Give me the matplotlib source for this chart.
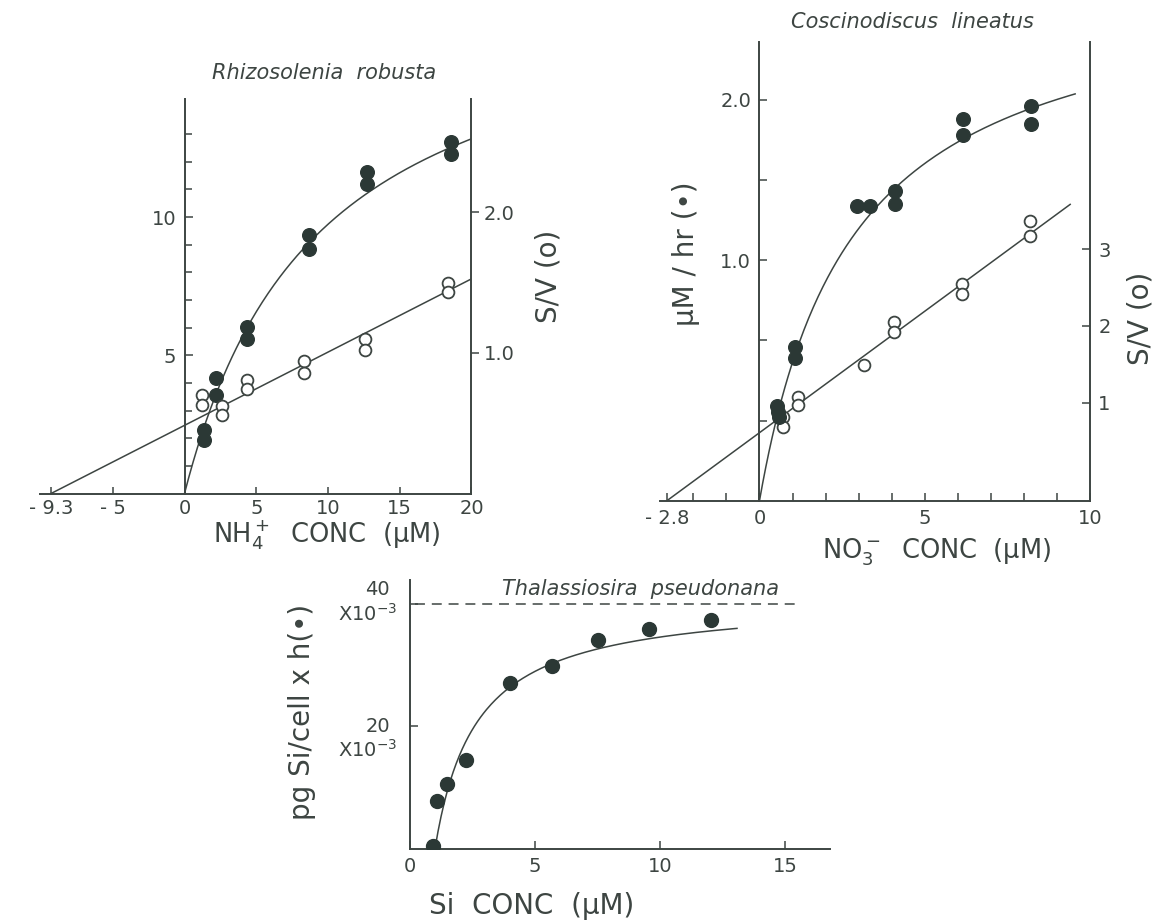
import numpy as np
import matplotlib.pyplot as plt

# Rhizosolenia robusta: NH4+ uptake rate (filled) and S/V (open)
rr_s_fill = [1.35, 1.35, 2.2, 2.2, 4.35, 4.35, 8.65, 8.65, 12.7, 12.7, 18.6, 18.6]
rr_v = [2.30, 1.94, 4.17, 3.57, 6.04, 5.59, 9.34, 8.86, 11.64, 11.18, 12.72, 12.29]
rr_s_open = [1.2, 1.2, 2.6, 2.6, 4.33, 4.33, 8.33, 8.33, 12.58, 12.58, 18.38, 18.38]
rr_sv = [0.70, 0.63, 0.62, 0.56, 0.81, 0.74, 0.94, 0.86, 1.10, 1.02, 1.50, 1.43]
rr_ks, rr_vmax, rr_vmax_sv = 9.3, 18.8, 19.2

# Coscinodiscus lineatus: NO3- uptake
cl_s_fill = [0.52, 0.56, 0.6, 1.08, 1.08, 2.94, 3.33, 4.1, 4.1, 6.16, 6.16, 8.22, 8.22]
cl_v = [0.09, 0.05, 0.02, 0.457, 0.388, 1.34, 1.34, 1.431, 1.351, 1.88, 1.78, 1.96, 1.85]
cl_s_open = [0.72, 0.72, 1.16, 1.16, 3.16, 4.08, 4.08, 6.14, 6.14, 8.19, 8.19]
cl_sv = [0.82, 0.69, 1.083, 0.974, 1.487, 2.057, 1.924, 2.54, 2.41, 3.36, 3.17]
cl_ks, cl_vmax, cl_v_floor = 2.8, 3.28, -0.5
cl_line_s = [-2.8, 9.4]
cl_line_sv = [-0.27, 3.58]

# Thalassiosira pseudonana: Si uptake
tp_s = [0.92, 1.07, 1.49, 2.25, 4.01, 5.69, 7.51, 9.57, 12.04]
tp_v = [0.44, 7.86, 10.6, 14.45, 27.1, 29.9, 34.2, 36.0, 37.4]
tp_s0, tp_ks, tp_vmax = 1.0, 1.65, 41.0
tp_vmax_line = 40

ink = '#3d4542'
dot = '#2b3835'
W, H = 1153, 922

plt.rcParams['font.family'] = ['DejaVu Sans']
plt.rcParams['text.color'] = ink
plt.rcParams['axes.edgecolor'] = ink
plt.rcParams['xtick.color'] = ink
plt.rcParams['ytick.color'] = ink
plt.rcParams['xtick.labelcolor'] = ink
plt.rcParams['ytick.labelcolor'] = ink
plt.rcParams['axes.linewidth'] = 1.4

fig = plt.figure(figsize=(W / 100, H / 100), dpi=100)


def rect(l, t, r, b):
    return [l / W, 1 - b / H, (r - l) / W, (b - t) / H]


def ftext(x, y, s, **kw):
    fig.text(x / W, 1 - y / H, s, **kw)


fill_kw = dict(ls='none', marker='o', ms=9.8, color=dot, mec=dot, zorder=4)
open_kw = dict(ls='none', marker='o', ms=8.5, mfc='white', mec=ink, mew=1.3, zorder=4)
line_kw = dict(color=ink, lw=1.1, zorder=2)
title_kw = dict(ha='center', va='center', fontsize=15, style='italic')


def frame(ax, tw):
    ax.spines['top'].set_visible(False)
    ax.spines['right'].set_visible(False)
    for side in ['left', 'top', 'bottom']:
        tw.spines[side].set_visible(False)
    tw.spines['right'].set_linewidth(1.4)
    ax.patch.set_visible(False)
    ax.set_zorder(tw.get_zorder() + 1)


# ---- panel 1 ----
ax1 = fig.add_axes(rect(40, 98.8, 471.5, 493.5))
tw1 = ax1.twinx()
frame(ax1, tw1)
ax1.spines['left'].set_position(('data', 0))
ax1.set_xlim(-10.07, 20)
ax1.set_ylim(0, 14.28)
tw1.set_ylim(0, 2.806)

s = np.linspace(0, 20, 200)
ax1.plot(s, rr_vmax * s / (rr_ks + s), **line_kw)
ax1.plot(rr_s_fill, rr_v, **fill_kw)
s_line = np.array([-rr_ks, 20])
ax1.plot(s_line, (s_line + rr_ks) / rr_vmax_sv * 14.28 / 2.806, **line_kw)
ax1.plot(rr_s_open, np.array(rr_sv) * 14.28 / 2.806, **open_kw)

ax1.set_xticks([-9.3, -5, 0, 5, 10, 15, 20], ['- 9.3', '- 5', '0', '5', '10', '15', '20'])
ax1.set_yticks([5, 10], ['5', '10'])
ax1.set_yticks(range(1, 14), minor=True)
ax1.tick_params(axis='both', which='both', direction='in', length=5, width=1.1, labelsize=14, pad=6)
ax1.tick_params(axis='x', pad=4)
ax1.tick_params(axis='y', which='major', length=6)
tw1.set_yticks([1.0, 2.0], ['1.0', '2.0'])
tw1.tick_params(axis='y', direction='out', length=6, width=1.1, labelsize=14, pad=3)

ftext(324, 73, 'Rhizosolenia  robusta', **title_kw)
ftext(327, 543, 'NH$_4^+$  CONC  (\u00b5M)', ha='center', va='baseline', fontsize=18.5)
ftext(548, 276, 'S/V (o)', ha='center', va='center', fontsize=20, rotation=90)

# ---- panel 2 ----
ax2 = fig.add_axes(rect(660, 42, 1090, 500.7))
tw2 = ax2.twinx()
frame(ax2, tw2)
ax2.spines['left'].set_position(('data', 0))
ax2.set_xlim(-3.01, 10)
ax2.set_ylim(-0.5, 2.36)
tw2.set_ylim(-0.27, 5.69)

s = np.linspace(0, 9.55, 200)
ax2.plot(s, cl_v_floor + cl_vmax * s / (cl_ks + s), **line_kw)
ax2.plot(cl_s_fill, cl_v, **fill_kw)
tw2.plot(cl_line_s, cl_line_sv, **line_kw)
tw2.plot(cl_s_open, cl_sv, **open_kw)

ax2.set_xticks([-2.8, 0, 5, 10], ['- 2.8', '0', '5', '10'])
ax2.set_xticks([-2, -1, 1, 2, 3, 4, 6, 7, 8, 9], minor=True)
ax2.set_yticks([0, 0.5, 1.0, 1.5, 2.0], ['', '', '1.0', '', '2.0'])
ax2.tick_params(axis='both', which='both', direction='in', length=6, width=1.1, labelsize=14, pad=6)
tw2.set_yticks([1, 2, 3], ['1', '2', '3'])
tw2.tick_params(axis='y', direction='in', length=6, width=1.1, labelsize=14, pad=6)

ftext(912, 22, 'Coscinodiscus  lineatus', **title_kw)
ftext(937, 558, 'NO$_3^-$  CONC  (\u00b5M)', ha='center', va='baseline', fontsize=18.5)
ftext(686, 254, '\u00b5M / hr (\u2022)', ha='center', va='center', fontsize=20, rotation=90)
ftext(1140, 318, 'S/V (o)', ha='center', va='center', fontsize=20, rotation=90)

# ---- panel 3 ----
ax3 = fig.add_axes(rect(410, 580, 830, 848.5))
ax3.spines['top'].set_visible(False)
ax3.spines['right'].set_visible(False)
ax3.patch.set_visible(False)
ax3.set_xlim(0, 16.8)
ax3.set_ylim(0, 44.0)

s = np.linspace(tp_s0, 13.08, 200)
ax3.plot(s, tp_vmax * (s - tp_s0) / (tp_ks + s - tp_s0), **line_kw)
ax3.plot([0.2, 15.65], [tp_vmax_line, tp_vmax_line], color=ink, lw=1.1, dashes=(6.5, 4.5))
ax3.plot(tp_s, tp_v, **dict(fill_kw, ms=10))

ax3.set_xticks([0, 5, 10, 15], ['0', '5', '10', '15'])
ax3.set_yticks([20, 40], ['', ''])
ax3.tick_params(axis='both', direction='in', length=6, width=1.1, labelsize=14, pad=6)
for val, up, down in [(20, 20.0, 16.2), (40, 42.4, 38.5)]:
    ax3.text(-0.8, up, str(val), ha='right', va='center', fontsize=14, transform=ax3.transData)
    ax3.text(-0.5, down, 'X10$^{-3}$', ha='right', va='center', fontsize=14, transform=ax3.transData)

ftext(640, 589, 'Thalassiosira  pseudonana', **title_kw)
ftext(532, 914, 'Si  CONC  (\u00b5M)', ha='center', va='baseline', fontsize=20)
ftext(302, 712, 'pg Si/cell x h(\u2022)', ha='center', va='center', fontsize=20, rotation=90)

fig.savefig('out.png', dpi=100, facecolor='white')
